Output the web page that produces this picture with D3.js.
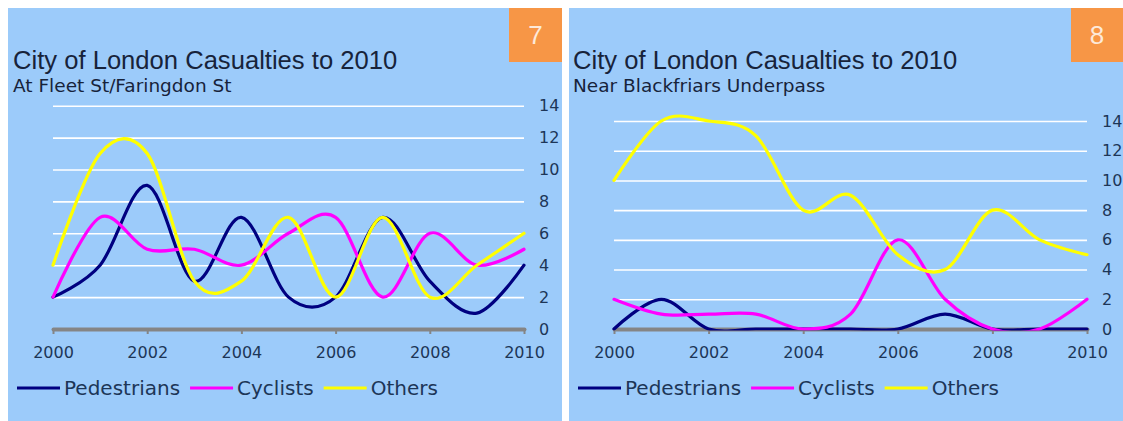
<!DOCTYPE html>
<html>
<head>
<meta charset="utf-8">
<script src="https://cdn.jsdelivr.net/npm/d3@7"></script>
<style>
  html, body { margin: 0; padding: 0; background: #ffffff; }
  svg { display: block; }
</style>
</head>
<body>
<svg id="chart" width="1123" height="421"></svg>
<script>
// Casualty counts per year for two City of London junctions
const years = [2000, 2001, 2002, 2003, 2004, 2005, 2006, 2007, 2008, 2009, 2010];
const xTickYears = [2000, 2002, 2004, 2006, 2008, 2010];
const yTickValues = [0, 2, 4, 6, 8, 10, 12, 14];
const seriesNames = ["Pedestrians", "Cyclists", "Others"];
const seriesColors = ["#000080", "#ff00ff", "#ffff00"];

// Fleet St / Faringdon St
const fleetPedestrians = [2, 4, 9, 3, 7, 2, 2, 7, 3, 1, 4];
const fleetCyclists    = [2, 7, 5, 5, 4, 6, 7, 2, 6, 4, 5];
const fleetOthers      = [4, 11, 11, 3, 3, 7, 2, 7, 2, 4, 6];

// Blackfriars Underpass
const blackfriarsPedestrians = [0, 2, 0, 0, 0, 0, 0, 1, 0, 0, 0];
const blackfriarsCyclists    = [2, 1, 1, 1, 0, 1, 6, 2, 0, 0, 2];
const blackfriarsOthers      = [10, 14, 14, 13, 8, 9, 5, 4, 8, 6, 5];

const chartTitle = "City of London Casualties to 2010";
const panelSubtitles = ["At Fleet St/Faringdon St", "Near Blackfriars Underpass"];
const panelBadges = ["7", "8"];
const panelSeries = [
  [fleetPedestrians, fleetCyclists, fleetOthers],
  [blackfriarsPedestrians, blackfriarsCyclists, blackfriarsOthers]
];

const svg = d3.select("#chart");

// Panel frames and plot boxes
const layouts = [
  { x0: 8,   x1: 562,  plotL: 53,  plotR: 524,  plotTop: 105.7, plotBottom: 329, badgeX: 509,  titleX: 13 },
  { x0: 569, x1: 1123, plotL: 614, plotR: 1087, plotTop: 121,   plotBottom: 329, badgeX: 1071, titleX: 573 }
];

const textColor = "#1d3657";
const sansFont = "'DejaVu Sans', Verdana, sans-serif";
const defs = svg.append("defs");

layouts.forEach((L, p) => {
  const g = svg.append("g").attr("class", "panel");

  g.append("rect")
    .attr("x", L.x0).attr("y", 8)
    .attr("width", L.x1 - L.x0).attr("height", 421 - 8)
    .attr("fill", "#9ccbfa");

  // Number badge
  g.append("rect")
    .attr("x", L.badgeX).attr("y", 8)
    .attr("width", L.x1 - L.badgeX).attr("height", 54)
    .attr("fill", "#f79646");
  g.append("text")
    .attr("x", (L.badgeX + L.x1) / 2).attr("y", 44)
    .attr("text-anchor", "middle")
    .attr("font-family", "'Liberation Sans', Arial, sans-serif")
    .attr("font-size", 26)
    .attr("fill", "#fde9d9")
    .text(panelBadges[p]);

  // Titles
  g.append("text")
    .attr("x", L.titleX).attr("y", 69)
    .attr("font-family", "'Liberation Sans', Arial, sans-serif")
    .attr("font-size", 25.6)
    .attr("fill", "#17233a")
    .text(chartTitle);
  g.append("text")
    .attr("x", L.titleX).attr("y", 92)
    .attr("font-family", sansFont)
    .attr("font-size", 18.5)
    .attr("fill", "#17233a")
    .text(panelSubtitles[p]);

  const x = d3.scaleLinear().domain([2000, 2010]).range([L.plotL, L.plotR]);
  const y = d3.scaleLinear().domain([0, 14]).range([L.plotBottom, L.plotTop]);

  // Horizontal gridlines
  const grid = g.append("g")
    .attr("transform", `translate(${L.plotR},0)`)
    .call(d3.axisLeft(y).tickValues(yTickValues).tickSize(L.plotR - L.plotL).tickFormat(""));
  grid.select(".domain").remove();
  grid.selectAll(".tick line").attr("stroke", "#ffffff").attr("stroke-width", 1.6);

  // Value labels on the right
  const yAxis = g.append("g")
    .attr("transform", `translate(${L.plotR},0)`)
    .call(d3.axisRight(y).tickValues(yTickValues).tickSize(0).tickPadding(15));
  yAxis.select(".domain").remove();
  yAxis.selectAll("text")
    .attr("font-family", sansFont).attr("font-size", 16)
    .attr("fill", textColor).attr("text-anchor", "start");

  // Year axis
  const xAxis = g.append("g")
    .attr("transform", `translate(0,${L.plotBottom})`)
    .call(d3.axisBottom(x).tickValues(xTickYears).tickFormat(d3.format("d"))
      .tickSize(5).tickSizeOuter(0).tickPadding(13));
  xAxis.select(".domain")
    .attr("stroke", "#858585").attr("stroke-width", 4).attr("stroke-linecap", "round");
  xAxis.selectAll(".tick line").attr("stroke", "#858585").attr("stroke-width", 2);
  xAxis.selectAll("text")
    .attr("font-family", sansFont).attr("font-size", 16)
    .attr("fill", textColor);

  // Lines are kept above the year axis centre line
  const clipId = `plot-clip-${p}`;
  defs.append("clipPath").attr("id", clipId)
    .append("rect")
    .attr("x", L.plotL - 5).attr("y", L.plotTop - 40)
    .attr("width", L.plotR - L.plotL + 10)
    .attr("height", L.plotBottom + 1.5 - (L.plotTop - 40));

  // Smoothed series lines
  const line = d3.line()
    .x((d, i) => x(years[i]))
    .y(d => y(d))
    .curve(d3.curveCardinal.tension(0));

  const lines = g.append("g").attr("clip-path", `url(#${clipId})`);
  panelSeries[p].forEach((vals, s) => {
    lines.append("path")
      .datum(vals)
      .attr("d", line)
      .attr("fill", "none")
      .attr("stroke", seriesColors[s])
      .attr("stroke-width", 3.2)
      .attr("stroke-linejoin", "round")
      .attr("stroke-linecap", "round");
  });

  // Legend
  const legend = g.append("g").attr("transform", `translate(${L.x0 + 9},388)`);
  let cursor = 0;
  seriesNames.forEach((name, s) => {
    legend.append("line")
      .attr("x1", cursor).attr("x2", cursor + 43)
      .attr("y1", 0).attr("y2", 0)
      .attr("stroke", seriesColors[s]).attr("stroke-width", 3);
    const t = legend.append("text")
      .attr("x", cursor + 47).attr("y", 7)
      .attr("font-family", sansFont).attr("font-size", 20)
      .attr("fill", textColor)
      .text(name);
    cursor += 47 + t.node().getComputedTextLength() + 10;
  });
});
</script>
</body>
</html>
